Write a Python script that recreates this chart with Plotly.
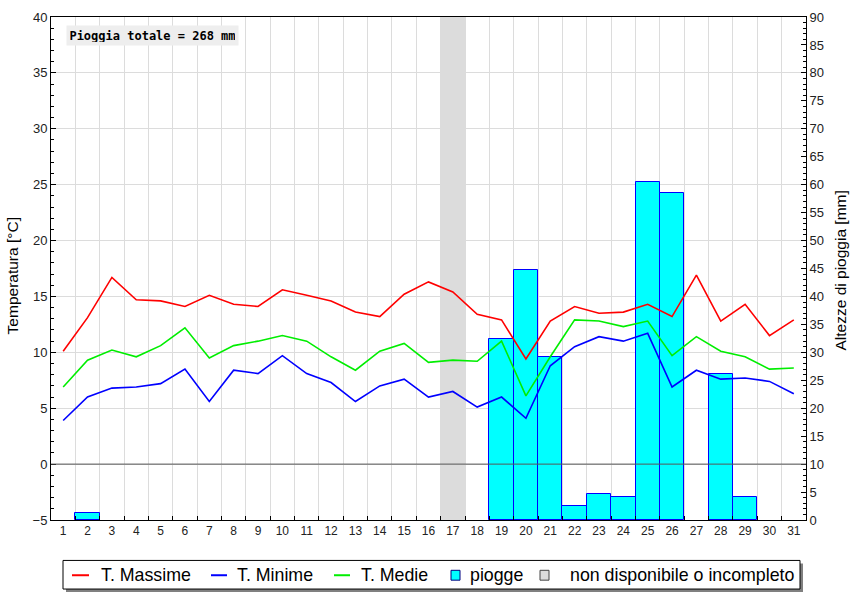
import plotly.graph_objects as go

days = list(range(1, 32))
t_max = [10.1, 13.1, 16.7, 14.7, 14.6, 14.1, 15.1, 14.3, 14.1, 15.6, 15.1, 14.6, 13.6, 13.2, 15.2, 16.3,
         15.4, 13.4, 12.9, 9.4, 12.8, 14.1, 13.5, 13.6, 14.3, 13.2, 16.9, 12.8, 14.3, 11.5, 12.9]
t_min = [3.9, 6.0, 6.8, 6.9, 7.2, 8.5, 5.6, 8.4, 8.1, 9.7, 8.1, 7.3, 5.6, 7.0, 7.6, 6.0,
         6.5, 5.1, 6.0, 4.1, 8.8, 10.5, 11.4, 11.0, 11.7, 6.9, 8.4, 7.6, 7.7, 7.4, 6.3]
t_med = [6.9, 9.3, 10.2, 9.6, 10.6, 12.2, 9.5, 10.6, 11.0, 11.5, 11.0, 9.6, 8.4, 10.1, 10.8, 9.1,
         9.3, 9.2, 11.0, 6.1, 9.6, 12.9, 12.8, 12.3, 12.8, 9.7, 11.4, 10.1, 9.6, 8.5, 8.6]
rain_days = [2, 19, 20, 21, 22, 23, 24, 25, 26, 28, 29]
rain_mm = [1.2, 32.4, 44.8, 29.1, 2.5, 4.6, 4.1, 60.5, 58.5, 26.1, 4.1]
missing_days = [17]

legend_labels = ["T. Massime", "T. Minime", "T. Medie", "piogge", "non disponibile o incompleto"]

W, H = 865, 600
L, R, T, B = 51, 59, 10, 80
PW, PH = W - L - R, H - T - B


def px(x):
    return (x - L) / PW


def py(y):
    return (H - B - y) / PH


fig = go.Figure()

fig.add_trace(go.Bar(x=rain_days, y=rain_mm, width=1, xaxis="x", yaxis="y",
                     marker=dict(color="#00ffff", line=dict(color="#0000ff", width=1)),
                     showlegend=False))
fig.add_trace(go.Scatter(x=days, y=t_max, mode="lines", xaxis="x", yaxis="y2",
                         line=dict(color="#ff0000", width=1.6), showlegend=False))
fig.add_trace(go.Scatter(x=days, y=t_min, mode="lines", xaxis="x", yaxis="y2",
                         line=dict(color="#0000ff", width=1.6), showlegend=False))
fig.add_trace(go.Scatter(x=days, y=t_med, mode="lines", xaxis="x", yaxis="y2",
                         line=dict(color="#00ee00", width=1.6), showlegend=False))

shapes = []
for d in missing_days:
    shapes.append(dict(type="rect", xref="x", yref="paper", x0=d - 0.5, x1=d + 0.5, y0=0, y1=1,
                       fillcolor="#dcdcdc", line=dict(width=0), layer="between"))
shapes.append(dict(type="line", xref="paper", yref="y2", x0=0, x1=1, y0=0, y1=0,
                   line=dict(color="#555555", width=1), layer="above"))

# legend (manual)
shapes.append(dict(type="rect", xref="paper", yref="paper", x0=px(66), x1=px(803), y0=py(564), y1=py(593),
                   fillcolor="#808080", line=dict(width=0), layer="above"))
shapes.append(dict(type="rect", xref="paper", yref="paper", x0=px(63), x1=px(800), y0=py(561), y1=py(590),
                   fillcolor="white", line=dict(color="black", width=1), layer="above"))
ly = 576
line_items = [(72, 89, "#ff0000", 99), (211, 227, "#0000ff", 235), (334, 350, "#00ee00", 359)]
annotations = []
for (xa, xb, col, tx), lab in zip(line_items, legend_labels[:3]):
    shapes.append(dict(type="line", xref="paper", yref="paper", x0=px(xa), x1=px(xb), y0=py(ly), y1=py(ly),
                       line=dict(color=col, width=2), layer="above"))
    annotations.append(dict(xref="paper", yref="paper", x=px(tx), y=py(ly), text=lab, showarrow=False,
                            xanchor="left", yanchor="middle",
                            font=dict(family="Liberation Sans, Arial", size=17.8, color="black")))
sq_items = [(451, "#00ffff", "#000080", 468), (540, "#dcdcdc", "#444444", 568)]
for (xs, fc, lc, tx), lab in zip(sq_items, legend_labels[3:]):
    shapes.append(dict(type="rect", xref="paper", yref="paper", x0=px(xs), x1=px(xs + 9),
                       y0=py(ly + 5), y1=py(ly - 5), fillcolor=fc, line=dict(color=lc, width=1), layer="above"))
    annotations.append(dict(xref="paper", yref="paper", x=px(tx), y=py(ly), text=lab, showarrow=False,
                            xanchor="left", yanchor="middle",
                            font=dict(family="Liberation Sans, Arial", size=17.8, color="black")))

# total rain box
annotations.append(dict(xref="paper", yref="paper", x=px(152.5), y=py(28.5),
                        text="<b>Pioggia totale = %d mm</b>" % round(sum(rain_mm)),
                        showarrow=False, xanchor="center", yanchor="middle",
                        bgcolor="#eeeeee", borderpad=3, width=165, height=13,
                        font=dict(family="DejaVu Sans Mono", size=12, color="black")))
# axis titles
annotations.append(dict(xref="paper", yref="paper", x=px(12), y=py(273), text="Temperatura [°C]",
                        textangle=-90, showarrow=False, xanchor="center", yanchor="middle",
                        font=dict(family="Liberation Sans, Arial", size=15.5, color="black")))
annotations.append(dict(xref="paper", yref="paper", x=px(840), y=py(267), text="Altezze di pioggia [mm]",
                        textangle=-90, showarrow=False, xanchor="center", yanchor="middle",
                        font=dict(family="Liberation Sans, Arial", size=15.5, color="black")))

half_days = [d + 0.5 for d in days[:-1]]
fig.update_layout(
    width=W, height=H, autosize=False,
    margin=dict(l=L, r=R, t=T, b=B, pad=0),
    paper_bgcolor="white", plot_bgcolor="white",
    font=dict(family="Liberation Sans, Arial", color="#222222"),
    bargap=0,
    shapes=shapes, annotations=annotations,
    xaxis=dict(range=[0.5, 31.5], tickmode="array", tickvals=days, ticktext=[str(d) for d in days],
               ticks="", showgrid=False, zeroline=False,
               minor=dict(tickmode="array", tickvals=half_days, ticks="inside", ticklen=4,
                          tickcolor="black", showgrid=True, gridcolor="#dcdcdc", gridwidth=1),
               showline=True, linecolor="black", linewidth=1, mirror=True,
               tickfont=dict(size=12, color="#222222")),
    yaxis=dict(range=[0, 90], side="right", tickmode="linear", tick0=0, dtick=5,
               ticks="inside", ticklen=5, tickcolor="black",
               minor=dict(dtick=1, ticks="inside", ticklen=3, tickcolor="black", showgrid=False),
               showgrid=False, zeroline=False, showline=True, linecolor="black", linewidth=1,
               tickfont=dict(size=13, color="#222222")),
    yaxis2=dict(range=[-5, 40], overlaying="y", side="left", anchor="x", tickmode="linear", tick0=-5, dtick=5,
                ticks="inside", ticklen=5, tickcolor="black",
                minor=dict(dtick=1, ticks="inside", ticklen=3, tickcolor="black", showgrid=False),
                showgrid=True, gridcolor="#dcdcdc", gridwidth=1, zeroline=False,
                showline=True, linecolor="black", linewidth=1,
                tickfont=dict(size=13, color="#222222")),
)

fig.write_html("out.html", config={"displayModeBar": False},
               post_script="document.body.style.margin='0';document.body.style.padding='0';")
